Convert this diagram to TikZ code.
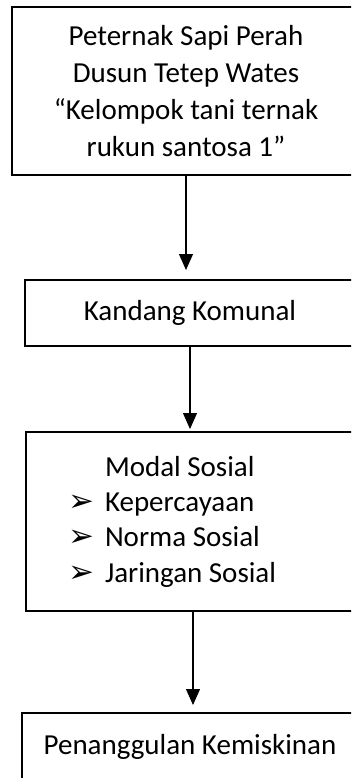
\documentclass[tikz,border=0pt]{standalone}
\usepackage{fontspec}
\setmainfont{Carlito}
\newfontfamily\symfont{DejaVu Sans}
\usetikzlibrary{arrows.meta}
\newcommand{\bul}{{\symfont\fontsize{31}{31}\selectfont ➢}}
\tikzset{
  box/.style={draw, line width=2pt, inner sep=0pt, font=\fontsize{29}{37}\selectfont},
  arr/.style={-{Triangle[length=16pt,width=14pt]}, line width=1.2pt}
}

\begin{document}
\begin{tikzpicture}[x=1pt,y=-1pt]
  \useasboundingbox (0,0) rectangle (351,778);
  \clip (0,0) rectangle (351,778);
  % boxes
  \node[box, minimum width=348pt, minimum height=168pt, align=center] (peternak) at (186,91)
    {Peternak Sapi Perah\\Dusun Tetep Wates\\“Kelompok tani ternak\\rukun santosa 1”};
  \node[box, minimum width=330pt, minimum height=66pt] (kandang) at (190,313) {Kandang Komunal};
  \node[box, minimum width=334pt, minimum height=179pt, text width=250pt, align=flush left,
        font=\fontsize{29}{35.3}\selectfont] (modal) at (193,521.5)
    {\hspace*{37pt}Modal Sosial\\
     \makebox[37pt][l]{\bul}Kepercayaan\\
     \makebox[37pt][l]{\bul}Norma Sosial\\
     \makebox[37pt][l]{\bul}Jaringan Sosial};
  \node[box, minimum width=336pt, minimum height=68pt] (penanggulan) at (190,747) {Penanggulan Kemiskinan};
  % arrows
  \draw[arr, shorten >=9pt] (peternak.south) -- (peternak.south |- kandang.north);
  \draw[arr, shorten >=2pt] (kandang.south) -- (kandang.south |- modal.north);
  \draw[arr, shorten >=7pt] (modal.south) -- (modal.south |- penanggulan.north);
\end{tikzpicture}
\end{document}
